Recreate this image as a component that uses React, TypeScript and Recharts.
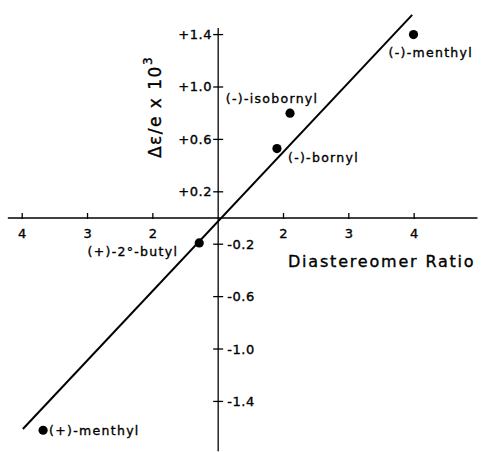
import { ScatterChart, Scatter, XAxis, YAxis, ReferenceLine } from 'recharts';

// measured points (diastereomer ratio on a folded scale, 0 == ratio 1)
const compounds = ["(-)-menthyl", "(-)-isobornyl", "(-)-bornyl", "(+)-2°-butyl", "(+)-menthyl"];
const ratioValues = [2.99, 1.1, 0.9, -0.29, -2.68];
const deltaValues = [1.4, 0.8, 0.53, -0.19, -1.62];

const xTickValues = [-3, -2, -1, 1, 2, 3];
const xTickLabels = ["4", "3", "2", "2", "3", "4"];
const yTickValues = [1.4, 1.0, 0.6, 0.2, -0.2, -0.6, -1.0, -1.4];
const yTickLabels = ["+1.4", "+1.0", "+0.6", "+0.2", "-0.2", "-0.6", "-1.0", "-1.4"];

// fitted line end points
const fitX = [-2.99, 2.97];
const fitY = [-1.61, 1.55];

// drawn extent of the two axis lines
const xAxisExtent = [-3.22, 3.97];
const yAxisExtent = [-1.78, 1.45];

const W = 486;
const H = 452;
const FONT = '"DejaVu Sans", sans-serif';

// where each name sits relative to its dot
const labelPlacement: { [name: string]: { dx: number, dy: number, anchor: string } } = {
  "(-)-menthyl": { dx: -25, dy: 18, anchor: "start" },
  "(-)-isobornyl": { dx: -18, dy: -15, anchor: "middle" },
  "(-)-bornyl": { dx: 11, dy: 9, anchor: "start" },
  "(+)-2°-butyl": { dx: -21, dy: 9, anchor: "end" },
  "(+)-menthyl": { dx: 6, dy: 0, anchor: "start" },
};

if (typeof document !== 'undefined') document.body.style.margin = '0';

const pointData = compounds.map((name, i) => ({ name, x: ratioValues[i], y: deltaValues[i] }));
const xTickData = xTickValues.map((x, i) => ({ x, y: 0, label: xTickLabels[i] }));
const yTickData = yTickValues.map((y, i) => ({ x: 0, y, label: yTickLabels[i] }));

const inked = { fill: "#000", stroke: "#000", strokeWidth: 0.35 };

function PointShape(props: any) {
  const { cx, cy, payload } = props;
  const p = labelPlacement[payload.name];
  return (
    <g>
      <circle cx={cx} cy={cy} r={4.6} fill="#000" />
      <text x={cx + p.dx} y={cy + p.dy} textAnchor={p.anchor} dominantBaseline="central"
        fontFamily={FONT} fontSize={12.5} letterSpacing={1.3} {...inked}>{payload.name}</text>
    </g>
  );
}

function XTickShape(props: any) {
  const { cx, cy, payload } = props;
  return (
    <g>
      <line x1={cx} y1={cy - 5} x2={cx} y2={cy + 1} stroke="#000" strokeWidth={1.3} />
      <text x={cx} y={cy + 15} textAnchor="middle" dominantBaseline="central"
        fontFamily={FONT} fontSize={13} {...inked}>{payload.label}</text>
    </g>
  );
}

function YTickShape(props: any) {
  const { cx, cy, payload } = props;
  const positive = payload.y > 0;
  return (
    <g>
      <line x1={cx - 5} y1={cy} x2={cx + 5} y2={cy} stroke="#000" strokeWidth={1.3} />
      <text x={positive ? cx - 6 : cx + 9} y={cy} textAnchor={positive ? "end" : "start"} dominantBaseline="central"
        fontFamily={FONT} fontSize={13} letterSpacing={0.6} {...inked}>{payload.label}</text>
    </g>
  );
}

export default function App() {
  return (
    <div style={{ width: W, height: H, background: '#fff', position: 'relative' }}>
      <ScatterChart width={W} height={H} margin={{ top: 0, right: 0, bottom: 0, left: 0 }}>
        <XAxis type="number" dataKey="x" domain={[-3.34, 4.1]} allowDataOverflow hide />
        <YAxis type="number" dataKey="y" domain={[-1.786, 1.664]} allowDataOverflow hide />
        <ReferenceLine segment={[{ x: xAxisExtent[0], y: 0 }, { x: xAxisExtent[1], y: 0 }]} stroke="#000" strokeWidth={1.6} ifOverflow="visible" />
        <ReferenceLine segment={[{ x: 0, y: yAxisExtent[0] }, { x: 0, y: yAxisExtent[1] }]} stroke="#000" strokeWidth={1.3} ifOverflow="visible" />
        <ReferenceLine segment={[{ x: fitX[0], y: fitY[0] }, { x: fitX[1], y: fitY[1] }]} stroke="#000" strokeWidth={2} ifOverflow="visible" />
        <Scatter data={xTickData} shape={XTickShape} isAnimationActive={false} />
        <Scatter data={yTickData} shape={YTickShape} isAnimationActive={false} />
        <Scatter data={pointData} shape={PointShape} isAnimationActive={false} />
      </ScatterChart>
      <svg width={W} height={H} style={{ position: 'absolute', left: 0, top: 0, pointerEvents: 'none' }}>
        <text x={288} y={261} dominantBaseline="central" fontFamily={FONT} fontSize={16} letterSpacing={1.8} {...inked}>Diastereomer Ratio</text>
        <text transform="translate(155,107) rotate(-90)" textAnchor="middle" dominantBaseline="central"
          fontFamily={FONT} fontSize={17} letterSpacing={1.5} {...inked}>
          Δε/e x 10<tspan dy={-7} fontSize={12}>3</tspan>
        </text>
      </svg>
    </div>
  );
}
